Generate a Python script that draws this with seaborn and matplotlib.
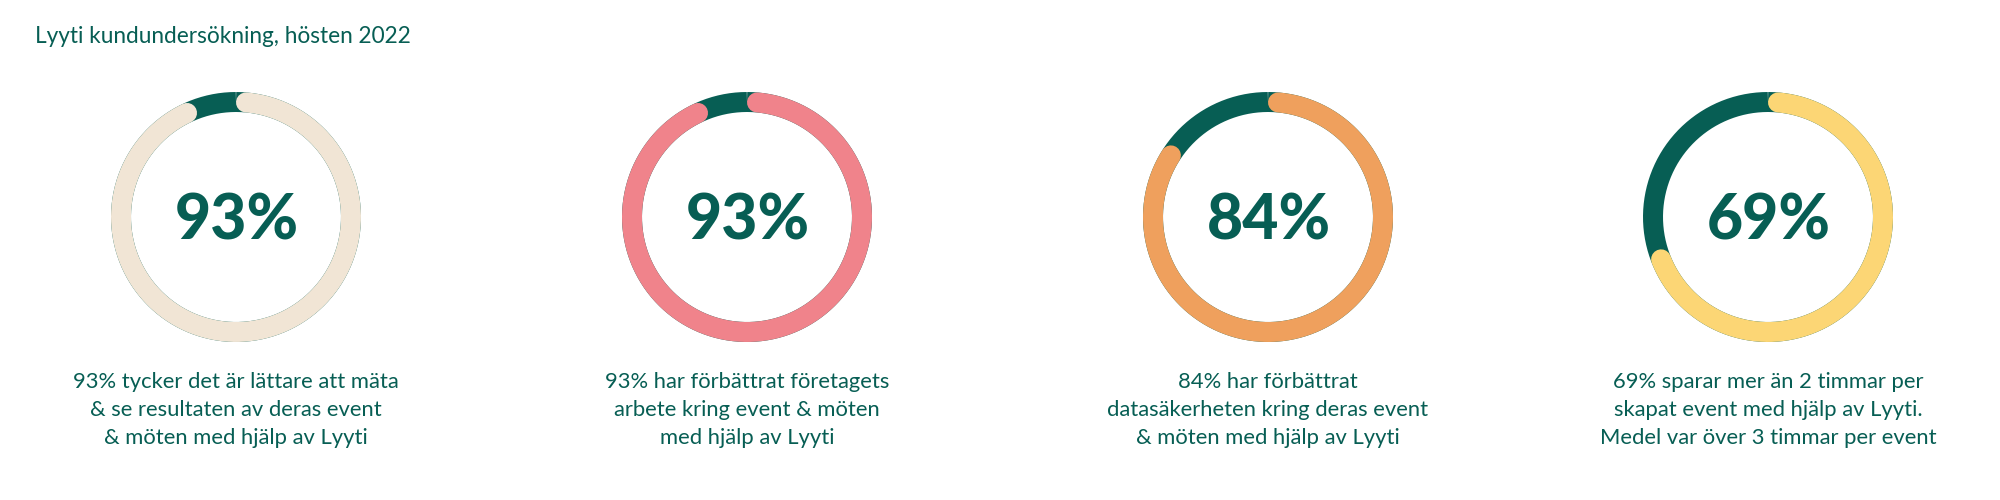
import numpy as np
import pandas as pd
import matplotlib
matplotlib.use("Agg")
import matplotlib.pyplot as plt
import seaborn as sns

# ---- data ----
title = "Lyyti kundundersökning, hösten 2022"
values = [93, 93, 84, 69]
labels = ["93%", "93%", "84%", "69%"]
descriptions = [
    ["93% tycker det är lättare att mäta", "& se resultaten av deras event", "& möten med hjälp av Lyyti"],
    ["93% har förbättrat företagets", "arbete kring event & möten", "med hjälp av Lyyti"],
    ["84% har förbättrat", "datasäkerheten kring deras event", "& möten med hjälp av Lyyti"],
    ["69% sparar mer än 2 timmar per", "skapat event med hjälp av Lyyti.", "Medel var över 3 timmar per event"],
]
arc_colors = ["#F1E5D5", "#F0838B", "#EFA05D", "#FCD675"]

# ---- style ----
DARK = "#075E54"
sns.set_theme(style="white")
plt.rcParams["font.family"] = ["Lato", "DejaVu Sans"]

W, H, DPI = 2000, 500, 100
fig = plt.figure(figsize=(W / DPI, H / DPI), dpi=DPI)
ax = fig.add_axes([0, 0, 1, 1])
ax.set_xlim(0, W)
ax.set_ylim(H, 0)
ax.set_axis_off()

centers_x = [236, 747, 1268, 1768]
cy = 217
r_mid = 115
ring_px = 20
lw = ring_px * 72 / DPI
delta = (ring_px / 2) / r_mid

ax.text(35, 43, title, fontsize=16.3, color=DARK, ha="left", va="baseline")

for cx, v, lab, desc, col in zip(centers_x, values, labels, descriptions, arc_colors):
    # full background ring
    t = np.linspace(0, 2 * np.pi, 400)
    bg = pd.DataFrame({"x": cx + r_mid * np.sin(t), "y": cy - r_mid * np.cos(t)})
    sns.lineplot(data=bg, x="x", y="y", sort=False, estimator=None, ax=ax,
                 color=DARK, linewidth=lw, solid_capstyle="butt")
    # value arc, clockwise from top
    ta = np.linspace(delta, v / 100 * 2 * np.pi, 400)
    arc = pd.DataFrame({"x": cx + r_mid * np.sin(ta), "y": cy - r_mid * np.cos(ta)})
    sns.lineplot(data=arc, x="x", y="y", sort=False, estimator=None, ax=ax,
                 color=col, linewidth=lw, solid_capstyle="round")
    ax.text(cx + 1, 240, lab, fontsize=45, fontweight="black", color=DARK,
            ha="center", va="baseline")
    for i, line in enumerate(desc):
        ax.text(cx, 388 + 28 * i, line, fontsize=15.8, color=DARK,
                ha="center", va="baseline")

ax.set_xlim(0, W)
ax.set_ylim(H, 0)
ax.set_axis_off()
fig.savefig("out.png", dpi=DPI, facecolor="white")
